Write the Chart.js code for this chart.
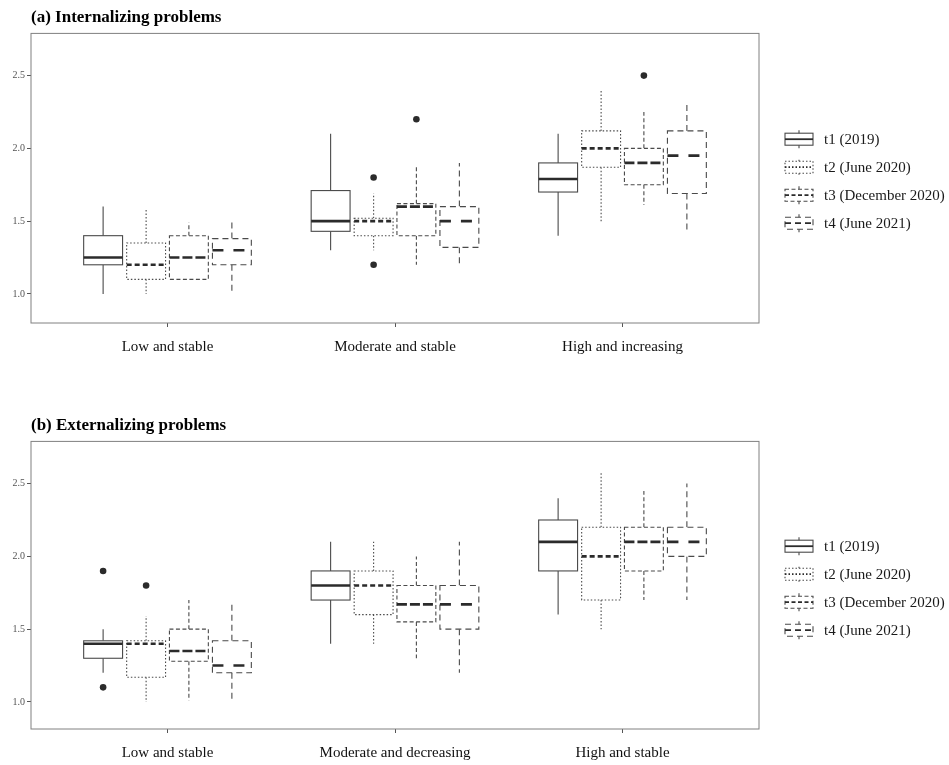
<!DOCTYPE html>
<html>
<head>
<meta charset="utf-8">
<script src="https://cdn.jsdelivr.net/npm/chart.js@4.4.1/dist/chart.umd.min.js"></script>
<style>
  body { margin: 0; background: #fff; }
  #wrap { position: relative; width: 949px; height: 765px; }
  canvas { position: absolute; left: 0; }
</style>
</head>
<body>
<div id="wrap">
  <canvas id="chartA" width="949" height="385" style="top:0"></canvas>
  <canvas id="chartB" width="949" height="365" style="top:400px"></canvas>
</div>
<script>
// categories and legend labels
const intCategories = ['Low and stable', 'Moderate and stable', 'High and increasing'];
const extCategories = ['Low and stable', 'Moderate and decreasing', 'High and stable'];
const seriesLabels = ['t1 (2019)', 't2 (June 2020)', 't3 (December 2020)', 't4 (June 2021)'];
const yTicks = [1.0, 1.5, 2.0, 2.5];

// box stats per category: [min, q1, median, q3, max]
const intT1 = [[1.0, 1.2, 1.25, 1.4, 1.6], [1.3, 1.43, 1.5, 1.71, 2.1], [1.4, 1.7, 1.79, 1.9, 2.1]];
const intT2 = [[1.0, 1.1, 1.2, 1.35, 1.59], [1.3, 1.4, 1.5, 1.52, 1.69], [1.5, 1.87, 2.0, 2.12, 2.4]];
const intT3 = [[1.1, 1.1, 1.25, 1.4, 1.49], [1.2, 1.4, 1.6, 1.62, 1.88], [1.61, 1.75, 1.9, 2.0, 2.25]];
const intT4 = [[1.01, 1.2, 1.3, 1.38, 1.49], [1.21, 1.32, 1.5, 1.6, 1.9], [1.43, 1.69, 1.95, 2.12, 2.31]];
// outliers per category
const intOutT1 = [[], [], []];
const intOutT2 = [[], [1.8, 1.2], []];
const intOutT3 = [[], [2.2], [2.5]];
const intOutT4 = [[], [], []];

const extT1 = [[1.2, 1.3, 1.4, 1.42, 1.5], [1.4, 1.7, 1.8, 1.9, 2.1], [1.6, 1.9, 2.1, 2.25, 2.4]];
const extT2 = [[1.0, 1.17, 1.4, 1.42, 1.59], [1.4, 1.6, 1.8, 1.9, 2.1], [1.5, 1.7, 2.0, 2.2, 2.58]];
const extT3 = [[1.01, 1.28, 1.35, 1.5, 1.7], [1.3, 1.55, 1.67, 1.8, 2.0], [1.7, 1.9, 2.1, 2.2, 2.45]];
const extT4 = [[1.01, 1.2, 1.25, 1.42, 1.68], [1.2, 1.5, 1.67, 1.8, 2.1], [1.7, 2.0, 2.1, 2.2, 2.5]];
const extOutT1 = [[1.9, 1.1], [], []];
const extOutT2 = [[1.8], [], []];
const extOutT3 = [[], [], []];
const extOutT4 = [[], [], []];

// dodge layout and line styles
const dodge = [-0.283, -0.094, 0.094, 0.283];
const halfWidth = 0.0855;
const styles = [
  { dash: [], medDash: [] },
  { dash: [1.5, 2], medDash: [5, 3] },
  { dash: [4, 2.5], medDash: [10, 3] },
  { dash: [6, 4], medDash: [11, 10] }
];
const lineColor = '#4a4a4a';
const medColor = '#2b2b2b';
const serif = "'Liberation Serif', 'DejaVu Serif', serif";

function drawBox(ctx, x, y, cx, b, st) {
    const [mn, q1, md, q3, mx] = b;
    const xl = x.getPixelForValue(cx - halfWidth);
    const xr = x.getPixelForValue(cx + halfWidth);
    const xc = x.getPixelForValue(cx);
    ctx.strokeStyle = lineColor;
    ctx.lineWidth = 1.1;
    ctx.setLineDash(st.dash);
    ctx.beginPath();
    ctx.moveTo(xc, y.getPixelForValue(q3));
    ctx.lineTo(xc, y.getPixelForValue(mx));
    ctx.moveTo(xc, y.getPixelForValue(q1));
    ctx.lineTo(xc, y.getPixelForValue(mn));
    ctx.stroke();
    const top = y.getPixelForValue(q3), bot = y.getPixelForValue(q1);
    ctx.fillStyle = '#fff';
    ctx.fillRect(xl, top, xr - xl, bot - top);
    ctx.strokeRect(xl, top, xr - xl, bot - top);
    ctx.strokeStyle = medColor;
    ctx.lineWidth = 2.6;
    ctx.setLineDash(st.medDash);
    ctx.beginPath();
    ctx.moveTo(xl, y.getPixelForValue(md));
    ctx.lineTo(xr, y.getPixelForValue(md));
    ctx.stroke();
}

function drawLegendKey(ctx, x0, yc, st) {
    ctx.strokeStyle = lineColor;
    ctx.lineWidth = 1.1;
    ctx.setLineDash(st.dash);
    ctx.beginPath();
    ctx.moveTo(x0 + 14, yc - 6); ctx.lineTo(x0 + 14, yc - 9);
    ctx.moveTo(x0 + 14, yc + 6); ctx.lineTo(x0 + 14, yc + 9);
    ctx.stroke();
    ctx.strokeRect(x0, yc - 6, 28, 12);
    ctx.strokeStyle = medColor;
    ctx.lineWidth = 1.8;
    ctx.beginPath();
    ctx.moveTo(x0, yc); ctx.lineTo(x0 + 28, yc);
    ctx.stroke();
}

const boxPlugin = {
    id: 'boxes',
    beforeDatasetsDraw(chart) {
        const { ctx, chartArea: a, scales: { x, y } } = chart;
        ctx.save();
        ctx.strokeStyle = '#808080';
        ctx.lineWidth = 1;
        ctx.strokeRect(a.left, a.top, a.right - a.left, a.bottom - a.top);
        chart.data.datasets.forEach((ds, i) => {
            ds.boxes.forEach((b, c) => drawBox(ctx, x, y, c + 1 + dodge[i], b, styles[i]));
        });
        ctx.restore();
    },
    afterDraw(chart) {
        const { ctx, chartArea: a } = chart;
        const mid = (a.top + a.bottom) / 2 + 3;
        ctx.save();
        seriesLabels.forEach((lab, i) => {
            const yc = mid + (i - 1.5) * 28;
            drawLegendKey(ctx, a.right + 26, yc, styles[i]);
            ctx.setLineDash([]);
            ctx.fillStyle = '#1a1a1a';
            ctx.font = '15px ' + serif;
            ctx.textBaseline = 'middle';
            ctx.fillText(lab, a.right + 65, yc + 1);
        });
        ctx.restore();
    }
};

function makeChart(id, title, categories, boxes, outliers, padTop, xHeight) {
    const datasets = boxes.map((bx, i) => ({
        label: seriesLabels[i],
        boxes: bx,
        data: outliers[i].flatMap((vals, c) => vals.map(v => ({ x: c + 1 + dodge[i], y: v }))),
        pointRadius: 3.3,
        pointBackgroundColor: medColor,
        pointBorderWidth: 0
    }));
    return new Chart(document.getElementById(id), {
        type: 'scatter',
        data: { datasets },
        options: {
            responsive: false,
            animation: false,
            layout: { padding: { top: padTop, left: 0, right: 190, bottom: 0 } },
            plugins: {
                legend: { display: false },
                tooltip: { enabled: false },
                title: {
                    display: true,
                    text: title,
                    align: 'start',
                    fullSize: false,
                    color: '#000',
                    font: { family: serif, size: 17, weight: 'bold' },
                    padding: { top: 7, bottom: 6 }
                }
            },
            scales: {
                x: {
                    type: 'linear',
                    min: 0.4,
                    max: 3.6,
                    afterBuildTicks: s => { s.ticks = [1, 2, 3].map(v => ({ value: v })); },
                    afterFit: s => { s.height = xHeight; },
                    grid: { drawOnChartArea: false, tickLength: 4, color: '#555' },
                    border: { display: false },
                    ticks: {
                        autoSkip: false,
                        maxRotation: 0,
                        padding: 11,
                        color: '#111',
                        font: { family: serif, size: 15 },
                        callback: v => categories[v - 1]
                    }
                },
                y: {
                    min: id === 'chartA' ? 0.8 : 0.814,
                    max: 2.79,
                    afterBuildTicks: s => { s.ticks = yTicks.map(v => ({ value: v })); },
                    afterFit: s => { s.width = 31; },
                    grid: { drawOnChartArea: false, tickLength: 4, color: '#555' },
                    border: { display: false },
                    ticks: {
                        padding: 2,
                        color: '#555',
                        font: { family: serif, size: 10 },
                        callback: v => v.toFixed(1)
                    }
                }
            }
        },
        plugins: [boxPlugin]
    });
}

makeChart('chartA', '(a) Internalizing problems', intCategories,
    [intT1, intT2, intT3, intT4], [intOutT1, intOutT2, intOutT3, intOutT4], 0, 62);
makeChart('chartB', '(b) Externalizing problems', extCategories,
    [extT1, extT2, extT3, extT4], [extOutT1, extOutT2, extOutT3, extOutT4], 8, 36);
</script>
</body>
</html>
